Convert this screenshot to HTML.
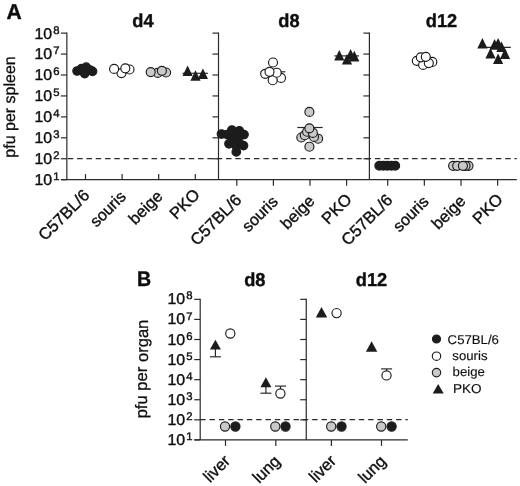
<!DOCTYPE html>
<html><head><meta charset="utf-8"><title>Figure</title>
<style>
html,body{margin:0;padding:0;background:#fff;}
svg{display:block;font-family:'Liberation Sans', sans-serif;text-rendering:geometricPrecision;}
</style></head>
<body>
<svg width="520" height="486" viewBox="0 0 520 486">
<defs><filter id="soft" x="0" y="0" width="520" height="486" filterUnits="userSpaceOnUse"><feGaussianBlur stdDeviation="0.4"/></filter></defs>
<g filter="url(#soft)">
<rect x="-5" y="-5" width="530" height="496" fill="#ffffff"/>
<line x1="61.00" y1="179.70" x2="516.80" y2="179.70" stroke="#2a2a2a" stroke-width="1.2" />
<line x1="66.85" y1="32.52" x2="66.85" y2="179.70" stroke="#2a2a2a" stroke-width="1.2" />
<line x1="60.85" y1="179.70" x2="66.85" y2="179.70" stroke="#2a2a2a" stroke-width="1.2" />
<line x1="60.85" y1="158.76" x2="66.85" y2="158.76" stroke="#2a2a2a" stroke-width="1.2" />
<line x1="60.85" y1="137.82" x2="66.85" y2="137.82" stroke="#2a2a2a" stroke-width="1.2" />
<line x1="60.85" y1="116.88" x2="66.85" y2="116.88" stroke="#2a2a2a" stroke-width="1.2" />
<line x1="60.85" y1="95.94" x2="66.85" y2="95.94" stroke="#2a2a2a" stroke-width="1.2" />
<line x1="60.85" y1="75.00" x2="66.85" y2="75.00" stroke="#2a2a2a" stroke-width="1.2" />
<line x1="60.85" y1="54.06" x2="66.85" y2="54.06" stroke="#2a2a2a" stroke-width="1.2" />
<line x1="60.85" y1="33.12" x2="66.85" y2="33.12" stroke="#2a2a2a" stroke-width="1.2" />
<line x1="218.50" y1="32.52" x2="218.50" y2="179.70" stroke="#2a2a2a" stroke-width="1.2" />
<line x1="212.50" y1="158.76" x2="218.50" y2="158.76" stroke="#2a2a2a" stroke-width="1.2" />
<line x1="212.50" y1="137.82" x2="218.50" y2="137.82" stroke="#2a2a2a" stroke-width="1.2" />
<line x1="212.50" y1="116.88" x2="218.50" y2="116.88" stroke="#2a2a2a" stroke-width="1.2" />
<line x1="212.50" y1="95.94" x2="218.50" y2="95.94" stroke="#2a2a2a" stroke-width="1.2" />
<line x1="212.50" y1="75.00" x2="218.50" y2="75.00" stroke="#2a2a2a" stroke-width="1.2" />
<line x1="212.50" y1="54.06" x2="218.50" y2="54.06" stroke="#2a2a2a" stroke-width="1.2" />
<line x1="212.50" y1="33.12" x2="218.50" y2="33.12" stroke="#2a2a2a" stroke-width="1.2" />
<line x1="369.40" y1="32.52" x2="369.40" y2="179.70" stroke="#2a2a2a" stroke-width="1.2" />
<line x1="363.40" y1="158.76" x2="369.40" y2="158.76" stroke="#2a2a2a" stroke-width="1.2" />
<line x1="363.40" y1="137.82" x2="369.40" y2="137.82" stroke="#2a2a2a" stroke-width="1.2" />
<line x1="363.40" y1="116.88" x2="369.40" y2="116.88" stroke="#2a2a2a" stroke-width="1.2" />
<line x1="363.40" y1="95.94" x2="369.40" y2="95.94" stroke="#2a2a2a" stroke-width="1.2" />
<line x1="363.40" y1="75.00" x2="369.40" y2="75.00" stroke="#2a2a2a" stroke-width="1.2" />
<line x1="363.40" y1="54.06" x2="369.40" y2="54.06" stroke="#2a2a2a" stroke-width="1.2" />
<line x1="363.40" y1="33.12" x2="369.40" y2="33.12" stroke="#2a2a2a" stroke-width="1.2" />
<text stroke="#111111" stroke-width="0.4" transform="translate(34.50,185.10) rotate(0.02) scale(1.02,1)" font-size="15.6" font-weight="normal" text-anchor="start" fill="#111111">10</text>
<text stroke="#111111" stroke-width="0.4" transform="translate(53.20,180.10) rotate(0.02) scale(1.02,1)" font-size="11.1" font-weight="normal" text-anchor="start" fill="#111111">1</text>
<text stroke="#111111" stroke-width="0.4" transform="translate(34.50,164.16) rotate(0.02) scale(1.02,1)" font-size="15.6" font-weight="normal" text-anchor="start" fill="#111111">10</text>
<text stroke="#111111" stroke-width="0.4" transform="translate(53.20,159.16) rotate(0.02) scale(1.02,1)" font-size="11.1" font-weight="normal" text-anchor="start" fill="#111111">2</text>
<text stroke="#111111" stroke-width="0.4" transform="translate(34.50,143.22) rotate(0.02) scale(1.02,1)" font-size="15.6" font-weight="normal" text-anchor="start" fill="#111111">10</text>
<text stroke="#111111" stroke-width="0.4" transform="translate(53.20,138.22) rotate(0.02) scale(1.02,1)" font-size="11.1" font-weight="normal" text-anchor="start" fill="#111111">3</text>
<text stroke="#111111" stroke-width="0.4" transform="translate(34.50,122.28) rotate(0.02) scale(1.02,1)" font-size="15.6" font-weight="normal" text-anchor="start" fill="#111111">10</text>
<text stroke="#111111" stroke-width="0.4" transform="translate(53.20,117.28) rotate(0.02) scale(1.02,1)" font-size="11.1" font-weight="normal" text-anchor="start" fill="#111111">4</text>
<text stroke="#111111" stroke-width="0.4" transform="translate(34.50,101.34) rotate(0.02) scale(1.02,1)" font-size="15.6" font-weight="normal" text-anchor="start" fill="#111111">10</text>
<text stroke="#111111" stroke-width="0.4" transform="translate(53.20,96.34) rotate(0.02) scale(1.02,1)" font-size="11.1" font-weight="normal" text-anchor="start" fill="#111111">5</text>
<text stroke="#111111" stroke-width="0.4" transform="translate(34.50,80.40) rotate(0.02) scale(1.02,1)" font-size="15.6" font-weight="normal" text-anchor="start" fill="#111111">10</text>
<text stroke="#111111" stroke-width="0.4" transform="translate(53.20,75.40) rotate(0.02) scale(1.02,1)" font-size="11.1" font-weight="normal" text-anchor="start" fill="#111111">6</text>
<text stroke="#111111" stroke-width="0.4" transform="translate(34.50,59.46) rotate(0.02) scale(1.02,1)" font-size="15.6" font-weight="normal" text-anchor="start" fill="#111111">10</text>
<text stroke="#111111" stroke-width="0.4" transform="translate(53.20,54.46) rotate(0.02) scale(1.02,1)" font-size="11.1" font-weight="normal" text-anchor="start" fill="#111111">7</text>
<text stroke="#111111" stroke-width="0.4" transform="translate(34.50,38.52) rotate(0.02) scale(1.02,1)" font-size="15.6" font-weight="normal" text-anchor="start" fill="#111111">10</text>
<text stroke="#111111" stroke-width="0.4" transform="translate(53.20,33.52) rotate(0.02) scale(1.02,1)" font-size="11.1" font-weight="normal" text-anchor="start" fill="#111111">8</text>
<line x1="85.50" y1="174.10" x2="85.50" y2="179.70" stroke="#2a2a2a" stroke-width="1.2" />
<line x1="122.10" y1="174.10" x2="122.10" y2="179.70" stroke="#2a2a2a" stroke-width="1.2" />
<line x1="158.70" y1="174.10" x2="158.70" y2="179.70" stroke="#2a2a2a" stroke-width="1.2" />
<line x1="195.30" y1="174.10" x2="195.30" y2="179.70" stroke="#2a2a2a" stroke-width="1.2" />
<line x1="236.80" y1="179.70" x2="236.80" y2="185.70" stroke="#2a2a2a" stroke-width="1.2" />
<line x1="273.40" y1="179.70" x2="273.40" y2="185.70" stroke="#2a2a2a" stroke-width="1.2" />
<line x1="310.00" y1="179.70" x2="310.00" y2="185.70" stroke="#2a2a2a" stroke-width="1.2" />
<line x1="346.60" y1="179.70" x2="346.60" y2="185.70" stroke="#2a2a2a" stroke-width="1.2" />
<line x1="387.70" y1="179.70" x2="387.70" y2="185.70" stroke="#2a2a2a" stroke-width="1.2" />
<line x1="424.35" y1="179.70" x2="424.35" y2="185.70" stroke="#2a2a2a" stroke-width="1.2" />
<line x1="461.00" y1="179.70" x2="461.00" y2="185.70" stroke="#2a2a2a" stroke-width="1.2" />
<line x1="497.65" y1="179.70" x2="497.65" y2="185.70" stroke="#2a2a2a" stroke-width="1.2" />
<line x1="67.8" y1="158.6" x2="516.8" y2="158.6" stroke="#2a2a2a" stroke-width="1.4" stroke-dasharray="5.5 3.806"/>
<text stroke="#111111" stroke-width="0.4" transform="translate(90.50,196.20) rotate(-44.98) scale(1.0,1)" font-size="16.5" font-weight="normal" text-anchor="end" fill="#111111">C57BL/6</text>
<text stroke="#111111" stroke-width="0.4" transform="translate(126.80,197.70) rotate(-44.98) scale(1.0,1)" font-size="16.0" font-weight="normal" text-anchor="end" fill="#111111">souris</text>
<text stroke="#111111" stroke-width="0.4" transform="translate(163.70,197.20) rotate(-44.98) scale(1.0,1)" font-size="16.4" font-weight="normal" text-anchor="end" fill="#111111">beige</text>
<text stroke="#111111" stroke-width="0.4" transform="translate(200.80,195.70) rotate(-44.98) scale(1.0,1)" font-size="16.5" font-weight="normal" text-anchor="end" fill="#111111">PKO</text>
<text stroke="#111111" stroke-width="0.4" transform="translate(242.50,201.00) rotate(-44.98) scale(1.0,1)" font-size="16.5" font-weight="normal" text-anchor="end" fill="#111111">C57BL/6</text>
<text stroke="#111111" stroke-width="0.4" transform="translate(278.80,202.50) rotate(-44.98) scale(1.0,1)" font-size="16.0" font-weight="normal" text-anchor="end" fill="#111111">souris</text>
<text stroke="#111111" stroke-width="0.4" transform="translate(315.70,202.00) rotate(-44.98) scale(1.0,1)" font-size="16.4" font-weight="normal" text-anchor="end" fill="#111111">beige</text>
<text stroke="#111111" stroke-width="0.4" transform="translate(352.80,200.50) rotate(-44.98) scale(1.0,1)" font-size="16.5" font-weight="normal" text-anchor="end" fill="#111111">PKO</text>
<text stroke="#111111" stroke-width="0.4" transform="translate(393.40,201.00) rotate(-44.98) scale(1.0,1)" font-size="16.5" font-weight="normal" text-anchor="end" fill="#111111">C57BL/6</text>
<text stroke="#111111" stroke-width="0.4" transform="translate(429.75,202.50) rotate(-44.98) scale(1.0,1)" font-size="16.0" font-weight="normal" text-anchor="end" fill="#111111">souris</text>
<text stroke="#111111" stroke-width="0.4" transform="translate(466.70,202.00) rotate(-44.98) scale(1.0,1)" font-size="16.4" font-weight="normal" text-anchor="end" fill="#111111">beige</text>
<text stroke="#111111" stroke-width="0.4" transform="translate(503.85,200.50) rotate(-44.98) scale(1.0,1)" font-size="16.5" font-weight="normal" text-anchor="end" fill="#111111">PKO</text>
<text stroke="#111111" stroke-width="0.4" transform="translate(143.00,26.80) rotate(0.02) scale(0.98,1)" font-size="18.6" font-weight="bold" text-anchor="middle" fill="#111111">d4</text>
<text stroke="#111111" stroke-width="0.4" transform="translate(289.00,26.80) rotate(0.02) scale(0.98,1)" font-size="18.6" font-weight="bold" text-anchor="middle" fill="#111111">d8</text>
<text stroke="#111111" stroke-width="0.4" transform="translate(441.50,26.80) rotate(0.02) scale(0.98,1)" font-size="18.6" font-weight="bold" text-anchor="middle" fill="#111111">d12</text>
<text stroke="#111111" stroke-width="0.4" transform="translate(6.40,18.50) rotate(0.02) scale(0.98,1)" font-size="21.5" font-weight="bold" text-anchor="start" fill="#111111">A</text>
<text stroke="#111111" stroke-width="0.3" transform="translate(15.20,107.00) rotate(-89.98) scale(1.0,1)" font-size="16" font-weight="normal" text-anchor="middle" fill="#111111">pfu per spleen</text>
<circle cx="77.10" cy="71.00" r="4.3" fill="#1c1c1c" stroke="#1c1c1c" stroke-width="1.15"/>
<circle cx="81.50" cy="68.70" r="4.3" fill="#1c1c1c" stroke="#1c1c1c" stroke-width="1.15"/>
<circle cx="86.20" cy="67.20" r="4.3" fill="#1c1c1c" stroke="#1c1c1c" stroke-width="1.15"/>
<circle cx="84.70" cy="73.60" r="4.3" fill="#1c1c1c" stroke="#1c1c1c" stroke-width="1.15"/>
<circle cx="90.00" cy="70.00" r="4.3" fill="#1c1c1c" stroke="#1c1c1c" stroke-width="1.15"/>
<circle cx="92.50" cy="71.40" r="4.3" fill="#1c1c1c" stroke="#1c1c1c" stroke-width="1.15"/>
<circle cx="121.50" cy="73.10" r="4.5" fill="#ffffff" stroke="#1c1c1c" stroke-width="1.15"/>
<circle cx="129.50" cy="69.50" r="4.5" fill="#ffffff" stroke="#1c1c1c" stroke-width="1.15"/>
<circle cx="114.10" cy="68.90" r="4.5" fill="#ffffff" stroke="#1c1c1c" stroke-width="1.15"/>
<circle cx="125.30" cy="68.30" r="4.5" fill="#ffffff" stroke="#1c1c1c" stroke-width="1.15"/>
<circle cx="157.70" cy="72.90" r="4.5" fill="#c9c9c9" stroke="#1c1c1c" stroke-width="1.15"/>
<circle cx="166.10" cy="72.50" r="4.5" fill="#c9c9c9" stroke="#1c1c1c" stroke-width="1.15"/>
<circle cx="150.70" cy="72.10" r="4.5" fill="#c9c9c9" stroke="#1c1c1c" stroke-width="1.15"/>
<circle cx="161.90" cy="70.80" r="4.5" fill="#c9c9c9" stroke="#1c1c1c" stroke-width="1.15"/>
<line x1="182.50" y1="73.30" x2="207.90" y2="73.30" stroke="#2a2a2a" stroke-width="1.2" />
<polygon points="187.60,65.40 182.50,76.00 192.70,76.00" fill="#1c1c1c"/>
<polygon points="195.50,70.20 190.40,80.80 200.60,80.80" fill="#1c1c1c"/>
<polygon points="202.90,68.50 197.80,79.10 208.00,79.10" fill="#1c1c1c"/>
<circle cx="221.50" cy="134.00" r="4.3" fill="#1c1c1c" stroke="#1c1c1c" stroke-width="1.15"/>
<circle cx="227.30" cy="134.60" r="4.3" fill="#1c1c1c" stroke="#1c1c1c" stroke-width="1.15"/>
<circle cx="231.90" cy="130.00" r="4.3" fill="#1c1c1c" stroke="#1c1c1c" stroke-width="1.15"/>
<circle cx="239.40" cy="130.90" r="4.3" fill="#1c1c1c" stroke="#1c1c1c" stroke-width="1.15"/>
<circle cx="244.00" cy="134.60" r="4.3" fill="#1c1c1c" stroke="#1c1c1c" stroke-width="1.15"/>
<circle cx="234.80" cy="135.20" r="4.3" fill="#1c1c1c" stroke="#1c1c1c" stroke-width="1.15"/>
<circle cx="237.70" cy="138.00" r="4.3" fill="#1c1c1c" stroke="#1c1c1c" stroke-width="1.15"/>
<circle cx="233.10" cy="139.40" r="4.3" fill="#1c1c1c" stroke="#1c1c1c" stroke-width="1.15"/>
<circle cx="236.50" cy="146.20" r="4.3" fill="#1c1c1c" stroke="#1c1c1c" stroke-width="1.15"/>
<circle cx="229.00" cy="143.80" r="4.3" fill="#1c1c1c" stroke="#1c1c1c" stroke-width="1.15"/>
<circle cx="238.80" cy="142.10" r="4.3" fill="#1c1c1c" stroke="#1c1c1c" stroke-width="1.15"/>
<circle cx="243.50" cy="145.60" r="4.3" fill="#1c1c1c" stroke="#1c1c1c" stroke-width="1.15"/>
<circle cx="236.30" cy="151.90" r="4.3" fill="#1c1c1c" stroke="#1c1c1c" stroke-width="1.15"/>
<line x1="260.50" y1="71.80" x2="285.40" y2="71.80" stroke="#2a2a2a" stroke-width="1.2" />
<circle cx="265.20" cy="73.80" r="4.5" fill="#ffffff" stroke="#1c1c1c" stroke-width="1.15"/>
<circle cx="281.00" cy="77.90" r="4.5" fill="#ffffff" stroke="#1c1c1c" stroke-width="1.15"/>
<circle cx="272.70" cy="80.20" r="4.5" fill="#ffffff" stroke="#1c1c1c" stroke-width="1.15"/>
<circle cx="273.00" cy="62.50" r="4.5" fill="#ffffff" stroke="#1c1c1c" stroke-width="1.15"/>
<circle cx="276.70" cy="72.70" r="4.5" fill="#ffffff" stroke="#1c1c1c" stroke-width="1.15"/>
<circle cx="269.50" cy="71.80" r="4.5" fill="#ffffff" stroke="#1c1c1c" stroke-width="1.15"/>
<line x1="297.30" y1="127.50" x2="322.70" y2="127.50" stroke="#2a2a2a" stroke-width="1.2" />
<circle cx="309.40" cy="111.90" r="4.5" fill="#c9c9c9" stroke="#1c1c1c" stroke-width="1.15"/>
<circle cx="309.40" cy="146.70" r="4.5" fill="#c9c9c9" stroke="#1c1c1c" stroke-width="1.15"/>
<circle cx="301.30" cy="137.50" r="4.5" fill="#c9c9c9" stroke="#1c1c1c" stroke-width="1.15"/>
<circle cx="318.10" cy="138.70" r="4.5" fill="#c9c9c9" stroke="#1c1c1c" stroke-width="1.15"/>
<circle cx="304.80" cy="135.20" r="4.5" fill="#c9c9c9" stroke="#1c1c1c" stroke-width="1.15"/>
<circle cx="314.00" cy="136.90" r="4.5" fill="#c9c9c9" stroke="#1c1c1c" stroke-width="1.15"/>
<circle cx="307.10" cy="131.70" r="4.5" fill="#c9c9c9" stroke="#1c1c1c" stroke-width="1.15"/>
<circle cx="312.90" cy="132.90" r="4.5" fill="#c9c9c9" stroke="#1c1c1c" stroke-width="1.15"/>
<circle cx="309.40" cy="128.30" r="4.5" fill="#c9c9c9" stroke="#1c1c1c" stroke-width="1.15"/>
<line x1="334.40" y1="55.90" x2="359.10" y2="55.90" stroke="#2a2a2a" stroke-width="1.2" />
<polygon points="339.30,50.00 334.20,60.60 344.40,60.60" fill="#1c1c1c"/>
<polygon points="347.00,53.90 341.90,64.50 352.10,64.50" fill="#1c1c1c"/>
<polygon points="350.60,48.90 345.50,59.50 355.70,59.50" fill="#1c1c1c"/>
<polygon points="354.30,50.80 349.20,61.40 359.40,61.40" fill="#1c1c1c"/>
<circle cx="379.30" cy="165.70" r="4.4" fill="#1c1c1c" stroke="#1c1c1c" stroke-width="1.15"/>
<circle cx="383.30" cy="165.70" r="4.4" fill="#1c1c1c" stroke="#1c1c1c" stroke-width="1.15"/>
<circle cx="387.30" cy="165.70" r="4.4" fill="#1c1c1c" stroke="#1c1c1c" stroke-width="1.15"/>
<circle cx="391.30" cy="165.70" r="4.4" fill="#1c1c1c" stroke="#1c1c1c" stroke-width="1.15"/>
<circle cx="395.20" cy="165.70" r="4.4" fill="#1c1c1c" stroke="#1c1c1c" stroke-width="1.15"/>
<circle cx="416.80" cy="60.80" r="4.5" fill="#ffffff" stroke="#1c1c1c" stroke-width="1.15"/>
<circle cx="432.30" cy="61.90" r="4.5" fill="#ffffff" stroke="#1c1c1c" stroke-width="1.15"/>
<circle cx="423.10" cy="64.90" r="4.5" fill="#ffffff" stroke="#1c1c1c" stroke-width="1.15"/>
<circle cx="428.80" cy="63.10" r="4.5" fill="#ffffff" stroke="#1c1c1c" stroke-width="1.15"/>
<circle cx="420.80" cy="57.30" r="4.5" fill="#ffffff" stroke="#1c1c1c" stroke-width="1.15"/>
<circle cx="425.80" cy="56.80" r="4.5" fill="#ffffff" stroke="#1c1c1c" stroke-width="1.15"/>
<circle cx="453.10" cy="165.80" r="4.5" fill="#c9c9c9" stroke="#1c1c1c" stroke-width="1.15"/>
<circle cx="468.50" cy="165.80" r="4.5" fill="#c9c9c9" stroke="#1c1c1c" stroke-width="1.15"/>
<circle cx="457.20" cy="165.80" r="4.5" fill="#c9c9c9" stroke="#1c1c1c" stroke-width="1.15"/>
<circle cx="465.50" cy="165.80" r="4.5" fill="#c9c9c9" stroke="#1c1c1c" stroke-width="1.15"/>
<circle cx="462.90" cy="165.80" r="4.5" fill="#c9c9c9" stroke="#1c1c1c" stroke-width="1.15"/>
<line x1="478.50" y1="47.40" x2="510.80" y2="47.40" stroke="#2a2a2a" stroke-width="1.2" />
<polygon points="482.40,37.90 477.30,48.50 487.50,48.50" fill="#1c1c1c"/>
<polygon points="494.60,39.10 489.50,49.70 499.70,49.70" fill="#1c1c1c"/>
<polygon points="498.10,37.90 493.00,48.50 503.20,48.50" fill="#1c1c1c"/>
<polygon points="501.50,41.40 496.40,52.00 506.60,52.00" fill="#1c1c1c"/>
<polygon points="490.50,47.90 485.40,58.50 495.60,58.50" fill="#1c1c1c"/>
<polygon points="505.00,48.30 499.90,58.90 510.10,58.90" fill="#1c1c1c"/>
<polygon points="498.10,53.40 493.00,64.00 503.20,64.00" fill="#1c1c1c"/>
<line x1="194.50" y1="439.90" x2="407.80" y2="439.90" stroke="#2a2a2a" stroke-width="1.2" />
<line x1="200.20" y1="298.74" x2="200.20" y2="439.90" stroke="#2a2a2a" stroke-width="1.2" />
<line x1="194.20" y1="439.90" x2="200.20" y2="439.90" stroke="#2a2a2a" stroke-width="1.2" />
<line x1="194.20" y1="419.82" x2="200.20" y2="419.82" stroke="#2a2a2a" stroke-width="1.2" />
<line x1="194.20" y1="399.74" x2="200.20" y2="399.74" stroke="#2a2a2a" stroke-width="1.2" />
<line x1="194.20" y1="379.66" x2="200.20" y2="379.66" stroke="#2a2a2a" stroke-width="1.2" />
<line x1="194.20" y1="359.58" x2="200.20" y2="359.58" stroke="#2a2a2a" stroke-width="1.2" />
<line x1="194.20" y1="339.50" x2="200.20" y2="339.50" stroke="#2a2a2a" stroke-width="1.2" />
<line x1="194.20" y1="319.42" x2="200.20" y2="319.42" stroke="#2a2a2a" stroke-width="1.2" />
<line x1="194.20" y1="299.34" x2="200.20" y2="299.34" stroke="#2a2a2a" stroke-width="1.2" />
<line x1="306.25" y1="298.74" x2="306.25" y2="439.90" stroke="#2a2a2a" stroke-width="1.2" />
<line x1="300.25" y1="419.82" x2="306.25" y2="419.82" stroke="#2a2a2a" stroke-width="1.2" />
<line x1="300.25" y1="399.74" x2="306.25" y2="399.74" stroke="#2a2a2a" stroke-width="1.2" />
<line x1="300.25" y1="379.66" x2="306.25" y2="379.66" stroke="#2a2a2a" stroke-width="1.2" />
<line x1="300.25" y1="359.58" x2="306.25" y2="359.58" stroke="#2a2a2a" stroke-width="1.2" />
<line x1="300.25" y1="339.50" x2="306.25" y2="339.50" stroke="#2a2a2a" stroke-width="1.2" />
<line x1="300.25" y1="319.42" x2="306.25" y2="319.42" stroke="#2a2a2a" stroke-width="1.2" />
<line x1="300.25" y1="299.34" x2="306.25" y2="299.34" stroke="#2a2a2a" stroke-width="1.2" />
<text stroke="#111111" stroke-width="0.4" transform="translate(167.50,444.90) rotate(0.02) scale(1.02,1)" font-size="15.6" font-weight="normal" text-anchor="start" fill="#111111">10</text>
<text stroke="#111111" stroke-width="0.4" transform="translate(186.20,440.00) rotate(0.02) scale(1.02,1)" font-size="11.1" font-weight="normal" text-anchor="start" fill="#111111">1</text>
<text stroke="#111111" stroke-width="0.4" transform="translate(167.50,424.82) rotate(0.02) scale(1.02,1)" font-size="15.6" font-weight="normal" text-anchor="start" fill="#111111">10</text>
<text stroke="#111111" stroke-width="0.4" transform="translate(186.20,419.92) rotate(0.02) scale(1.02,1)" font-size="11.1" font-weight="normal" text-anchor="start" fill="#111111">2</text>
<text stroke="#111111" stroke-width="0.4" transform="translate(167.50,404.74) rotate(0.02) scale(1.02,1)" font-size="15.6" font-weight="normal" text-anchor="start" fill="#111111">10</text>
<text stroke="#111111" stroke-width="0.4" transform="translate(186.20,399.84) rotate(0.02) scale(1.02,1)" font-size="11.1" font-weight="normal" text-anchor="start" fill="#111111">3</text>
<text stroke="#111111" stroke-width="0.4" transform="translate(167.50,384.66) rotate(0.02) scale(1.02,1)" font-size="15.6" font-weight="normal" text-anchor="start" fill="#111111">10</text>
<text stroke="#111111" stroke-width="0.4" transform="translate(186.20,379.76) rotate(0.02) scale(1.02,1)" font-size="11.1" font-weight="normal" text-anchor="start" fill="#111111">4</text>
<text stroke="#111111" stroke-width="0.4" transform="translate(167.50,364.58) rotate(0.02) scale(1.02,1)" font-size="15.6" font-weight="normal" text-anchor="start" fill="#111111">10</text>
<text stroke="#111111" stroke-width="0.4" transform="translate(186.20,359.68) rotate(0.02) scale(1.02,1)" font-size="11.1" font-weight="normal" text-anchor="start" fill="#111111">5</text>
<text stroke="#111111" stroke-width="0.4" transform="translate(167.50,344.50) rotate(0.02) scale(1.02,1)" font-size="15.6" font-weight="normal" text-anchor="start" fill="#111111">10</text>
<text stroke="#111111" stroke-width="0.4" transform="translate(186.20,339.60) rotate(0.02) scale(1.02,1)" font-size="11.1" font-weight="normal" text-anchor="start" fill="#111111">6</text>
<text stroke="#111111" stroke-width="0.4" transform="translate(167.50,324.42) rotate(0.02) scale(1.02,1)" font-size="15.6" font-weight="normal" text-anchor="start" fill="#111111">10</text>
<text stroke="#111111" stroke-width="0.4" transform="translate(186.20,319.52) rotate(0.02) scale(1.02,1)" font-size="11.1" font-weight="normal" text-anchor="start" fill="#111111">7</text>
<text stroke="#111111" stroke-width="0.4" transform="translate(167.50,304.34) rotate(0.02) scale(1.02,1)" font-size="15.6" font-weight="normal" text-anchor="start" fill="#111111">10</text>
<text stroke="#111111" stroke-width="0.4" transform="translate(186.20,299.44) rotate(0.02) scale(1.02,1)" font-size="11.1" font-weight="normal" text-anchor="start" fill="#111111">8</text>
<line x1="225.50" y1="439.90" x2="225.50" y2="445.90" stroke="#2a2a2a" stroke-width="1.2" />
<line x1="275.80" y1="439.90" x2="275.80" y2="445.90" stroke="#2a2a2a" stroke-width="1.2" />
<line x1="331.40" y1="439.90" x2="331.40" y2="445.90" stroke="#2a2a2a" stroke-width="1.2" />
<line x1="381.50" y1="439.90" x2="381.50" y2="445.90" stroke="#2a2a2a" stroke-width="1.2" />
<line x1="200.2" y1="419.6" x2="407.8" y2="419.6" stroke="#2a2a2a" stroke-width="1.4" stroke-dasharray="5.4 3.93"/>
<text stroke="#111111" stroke-width="0.4" transform="translate(231.20,462.00) rotate(-44.98) scale(1.0,1)" font-size="16.4" font-weight="normal" text-anchor="end" fill="#111111">liver</text>
<text stroke="#111111" stroke-width="0.4" transform="translate(281.20,462.20) rotate(-44.98) scale(1.0,1)" font-size="16.4" font-weight="normal" text-anchor="end" fill="#111111">lung</text>
<text stroke="#111111" stroke-width="0.4" transform="translate(337.10,462.00) rotate(-44.98) scale(1.0,1)" font-size="16.4" font-weight="normal" text-anchor="end" fill="#111111">liver</text>
<text stroke="#111111" stroke-width="0.4" transform="translate(386.90,462.20) rotate(-44.98) scale(1.0,1)" font-size="16.4" font-weight="normal" text-anchor="end" fill="#111111">lung</text>
<text stroke="#111111" stroke-width="0.4" transform="translate(254.80,286.00) rotate(0.02) scale(0.98,1)" font-size="18.6" font-weight="bold" text-anchor="middle" fill="#111111">d8</text>
<text stroke="#111111" stroke-width="0.4" transform="translate(371.50,286.00) rotate(0.02) scale(0.98,1)" font-size="18.6" font-weight="bold" text-anchor="middle" fill="#111111">d12</text>
<text stroke="#111111" stroke-width="0.4" transform="translate(137.00,285.80) rotate(0.02) scale(0.93,1)" font-size="21.0" font-weight="bold" text-anchor="start" fill="#111111">B</text>
<text stroke="#111111" stroke-width="0.3" transform="translate(147.50,369.00) rotate(-89.98) scale(1.0,1)" font-size="16.6" font-weight="normal" text-anchor="middle" fill="#111111">pfu per organ</text>
<line x1="215.40" y1="349.00" x2="215.40" y2="356.80" stroke="#2a2a2a" stroke-width="1.2" />
<line x1="209.90" y1="356.80" x2="220.90" y2="356.80" stroke="#2a2a2a" stroke-width="1.2" />
<polygon points="215.40,339.70 209.90,349.60 220.90,349.60" fill="#1c1c1c"/>
<circle cx="230.30" cy="333.50" r="4.6" fill="#ffffff" stroke="#1c1c1c" stroke-width="1.15"/>
<line x1="265.90" y1="387.00" x2="265.90" y2="393.20" stroke="#2a2a2a" stroke-width="1.2" />
<line x1="260.40" y1="393.20" x2="271.40" y2="393.20" stroke="#2a2a2a" stroke-width="1.2" />
<polygon points="265.90,377.30 260.40,387.20 271.40,387.20" fill="#1c1c1c"/>
<line x1="280.50" y1="390.00" x2="280.50" y2="386.10" stroke="#2a2a2a" stroke-width="1.2" />
<line x1="275.00" y1="386.10" x2="286.00" y2="386.10" stroke="#2a2a2a" stroke-width="1.2" />
<circle cx="280.40" cy="393.50" r="4.6" fill="#ffffff" stroke="#1c1c1c" stroke-width="1.15"/>
<polygon points="321.50,307.10 315.80,317.50 327.20,317.50" fill="#1c1c1c"/>
<circle cx="336.60" cy="313.10" r="4.6" fill="#ffffff" stroke="#1c1c1c" stroke-width="1.15"/>
<polygon points="371.60,341.30 365.90,351.70 377.30,351.70" fill="#1c1c1c"/>
<line x1="386.60" y1="372.00" x2="386.60" y2="368.90" stroke="#2a2a2a" stroke-width="1.2" />
<line x1="381.10" y1="368.90" x2="392.10" y2="368.90" stroke="#2a2a2a" stroke-width="1.2" />
<circle cx="386.50" cy="375.40" r="4.6" fill="#ffffff" stroke="#1c1c1c" stroke-width="1.15"/>
<circle cx="225.00" cy="426.50" r="4.6" fill="#c9c9c9" stroke="#1c1c1c" stroke-width="1.15"/>
<circle cx="235.40" cy="426.50" r="4.6" fill="#1c1c1c" stroke="#1c1c1c" stroke-width="1.15"/>
<circle cx="275.30" cy="426.50" r="4.6" fill="#c9c9c9" stroke="#1c1c1c" stroke-width="1.15"/>
<circle cx="285.50" cy="426.50" r="4.6" fill="#1c1c1c" stroke="#1c1c1c" stroke-width="1.15"/>
<circle cx="331.20" cy="426.50" r="4.6" fill="#c9c9c9" stroke="#1c1c1c" stroke-width="1.15"/>
<circle cx="341.50" cy="426.50" r="4.6" fill="#1c1c1c" stroke="#1c1c1c" stroke-width="1.15"/>
<circle cx="381.20" cy="426.50" r="4.6" fill="#c9c9c9" stroke="#1c1c1c" stroke-width="1.15"/>
<circle cx="391.60" cy="426.50" r="4.6" fill="#1c1c1c" stroke="#1c1c1c" stroke-width="1.15"/>
<circle cx="436.50" cy="339.00" r="4.0" fill="#1c1c1c" stroke="#1c1c1c" stroke-width="1.15"/>
<circle cx="436.50" cy="356.20" r="4.2" fill="#ffffff" stroke="#1c1c1c" stroke-width="1.15"/>
<circle cx="436.50" cy="372.60" r="4.2" fill="#c9c9c9" stroke="#1c1c1c" stroke-width="1.15"/>
<polygon points="438.20,383.90 432.70,393.50 443.70,393.50" fill="#1c1c1c"/>
<text stroke="#111111" stroke-width="0.15" transform="translate(447.60,343.50) rotate(0.02) scale(1.04,1)" font-size="12.7" font-weight="normal" text-anchor="start" fill="#111111">C57BL/6</text>
<text stroke="#111111" stroke-width="0.15" transform="translate(452.30,359.50) rotate(0.02) scale(1.04,1)" font-size="12.7" font-weight="normal" text-anchor="start" fill="#111111">souris</text>
<text stroke="#111111" stroke-width="0.15" transform="translate(452.60,376.10) rotate(0.02) scale(1.04,1)" font-size="12.7" font-weight="normal" text-anchor="start" fill="#111111">beige</text>
<text stroke="#111111" stroke-width="0.15" transform="translate(453.00,393.30) rotate(0.02) scale(1.05,1)" font-size="12.9" font-weight="normal" text-anchor="start" fill="#111111">PKO</text>
</g>
</svg>
</body></html>
